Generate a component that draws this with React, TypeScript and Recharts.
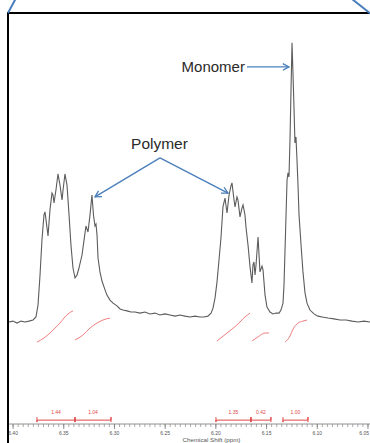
import React from 'react';
import {
  ComposedChart,
  Line,
  XAxis,
  YAxis,
  ReferenceLine,
  ReferenceDot,
} from 'recharts';

// 1H NMR trace, [ppm, intensity] (monomer peak = 100)
const spectrum: [number, number][] = [
  [6.404, -0.7], [6.4001, -0.4], [6.3961, -1.1], [6.3922, -0.4], [6.3882, -0.7],
  [6.3843, -0.4], [6.3803, 0], [6.3774, 1.1], [6.3754, 5.4], [6.3734, 16.3],
  [6.3715, 28.9], [6.3695, 38.0], [6.3685, 39.1], [6.3665, 33.3], [6.3655, 30.4],
  [6.3636, 39.8], [6.3616, 45.9], [6.3606, 45.2], [6.3596, 42.3], [6.3577, 47.0],
  [6.3557, 52.8], [6.3537, 48.8], [6.3517, 43.4], [6.3507, 47.0], [6.3488, 52.8],
  [6.3468, 48.8], [6.3448, 38.0], [6.3429, 27.1], [6.3409, 18.8], [6.3389, 15.2],
  [6.3369, 16.3], [6.335, 18.8], [6.332, 23.5], [6.33, 28.9], [6.3281, 34.0],
  [6.3261, 31.8], [6.3241, 38.0], [6.3222, 45.2], [6.3207, 38.0], [6.3192, 34.0],
  [6.3182, 34.7], [6.3172, 30.7], [6.3162, 22.4], [6.3143, 17.4], [6.3123, 14.1],
  [6.3093, 10.9], [6.3074, 9.0], [6.3044, 7.2], [6.3014, 6.1], [6.2975, 5.1],
  [6.2945, 4.0], [6.2916, 3.6], [6.2876, 3.3], [6.2837, 2.9], [6.2797, 2.9],
  [6.2748, 2.5], [6.2699, 2.9], [6.265, 2.2], [6.26, 2.5], [6.2551, 1.8],
  [6.2502, 2.2], [6.2452, 1.8], [6.2403, 1.4], [6.2354, 1.8], [6.2304, 1.4],
  [6.2255, 1.1], [6.2206, 1.4], [6.2156, 1.1], [6.2117, 1.1], [6.2078, 1.4],
  [6.2048, 2.5], [6.2028, 4.3], [6.2008, 8.0], [6.1989, 13.7], [6.1969, 21.7],
  [6.1949, 30.0], [6.193, 40.9], [6.191, 44.1], [6.189, 38.7], [6.187, 45.2],
  [6.1851, 48.5], [6.1841, 49.6], [6.1821, 43.4], [6.1811, 40.9], [6.1792, 44.5],
  [6.1782, 43.4], [6.1762, 37.3], [6.1742, 40.5], [6.1732, 41.6], [6.1713, 38.0],
  [6.1703, 33.6], [6.1683, 27.1], [6.1663, 19.2], [6.1644, 13.4], [6.1634, 19.9],
  [6.1624, 21.0], [6.1614, 16.3], [6.1604, 19.9], [6.1584, 30.0], [6.1565, 17.4],
  [6.1545, 19.5], [6.1535, 18.1], [6.1515, 9.0], [6.1496, 4.7], [6.1466, 2.9],
  [6.1437, 2.2], [6.1407, 2.5], [6.1377, 2.5], [6.1358, 3.6], [6.1338, 6.1],
  [6.1328, 12.7], [6.1318, 25.3], [6.1308, 38.0], [6.1298, 50.6], [6.1289, 53.2],
  [6.1279, 51.7], [6.1269, 65.1], [6.1259, 83.2], [6.1249, 100.2], [6.1239, 88.6],
  [6.1229, 76.0], [6.122, 64.0], [6.121, 66.2], [6.12, 57.9], [6.119, 48.8],
  [6.118, 38.0], [6.116, 27.1], [6.1141, 17.4], [6.1121, 9.8], [6.1101, 6.1],
  [6.1072, 3.6], [6.1032, 2.2], [6.0993, 1.4], [6.0953, 1.1], [6.0894, 0.7],
  [6.0835, 0.4], [6.0776, 0], [6.0716, 0], [6.0657, -0.4], [6.0598, -0.7],
  [6.0539, -0.4], [6.048, -0.7],
];

// integral traces (red), one per region
const integralCurves: [number, number][][] = [
  [[6.3764, -8.0], [6.3695, -6.5], [6.3636, -4.7], [6.3586, -2.9], [6.3537, -1.1], [6.3498, 0.7], [6.3458, 2.2], [6.3409, 3.3]],
  [[6.3389, -7.2], [6.331, -5.4], [6.3241, -2.9], [6.3172, -1.1], [6.3113, 0], [6.3044, 0.7]],
  [[6.1989, -7.6], [6.189, -4.7], [6.1792, -1.8], [6.1713, 1.1], [6.1663, 2.5]],
  [[6.1644, -7.6], [6.1584, -6.1], [6.1515, -4.7], [6.1476, -4.7]],
  [[6.1318, -8.0], [6.1269, -5.8], [6.1239, -3.3], [6.119, -1.1], [6.1141, -0.4], [6.1101, 0]],
];

const integralRanges: [number, number][] = [
  [6.3764, 6.3389],
  [6.3389, 6.3034],
  [6.1999, 6.1654],
  [6.1654, 6.1457],
  [6.1338, 6.1092],
];
const integralValues = ['1.44', '1.04', '1.35', '0.42', '1.00'];

const allTicks: number[] = [];
for (let k = 6050; k <= 6400; k += 5) allTicks.push(k / 1000);

const BRACKET_Y = -36.2;
const BRACKET_TOP = -35.1;
const BRACKET_BOT = -36.9;
const LABEL_Y = -33.3;

const FONT = '"Liberation Sans", Arial, sans-serif';
const BLUE = '#4a7ebb';
const RED = '#e04848';

const spectrumData = spectrum.map(([ppm, v]) => ({ ppm, v }));

const PpmTick = (props: any) => {
  const { x, y, payload } = props;
  const v = payload.value as number;
  const m = Math.round(v * 1000);
  if (m % 50 !== 0) return null;
  // last label sits on the cut edge, keep it inside
  const last = m === 6050;
  return (
    <g>
      <line x1={x} x2={x} y1={y - 7} y2={y - 2} stroke="#777" strokeWidth={0.8} />
      <text
        x={last ? x + 1 : x}
        y={y}
        dy="0.71em"
        textAnchor={last ? 'end' : 'middle'}
        fontSize={5}
        fill="#555"
        fontFamily={FONT}
      >
        {v.toFixed(2)}
      </text>
    </g>
  );
};

const Arrow = (p: any) => {
  const { x1, y1, x2, y2 } = p;
  const a = Math.atan2(y2 - y1, x2 - x1);
  const L = 7;
  const s = 0.5;
  const pts = `${x2 - L * Math.cos(a - s)},${y2 - L * Math.sin(a - s)} ${x2},${y2} ${x2 - L * Math.cos(a + s)},${y2 - L * Math.sin(a + s)}`;
  return (
    <g stroke={BLUE} strokeWidth={1.3} fill="none">
      <line x1={x1} y1={y1} x2={x2} y2={y2} />
      <polyline points={pts} />
    </g>
  );
};

const textShape = (label: string, anchor: 'start' | 'middle' | 'end', size: number, color: string) =>
  (p: any) => (
    <text x={p.cx} y={p.cy} textAnchor={anchor} dominantBaseline="central" fontSize={size} fill={color} fontFamily={FONT}>
      {label}
    </text>
  );

export default function App() {
  return (
    <div
      style={{
        position: 'fixed',
        left: 0,
        top: 0,
        width: 370,
        height: 443,
        overflow: 'hidden',
        background: '#fff',
      }}
    >
      <ComposedChart width={370} height={443} margin={{ top: 13, right: 0, left: 9, bottom: 0 }}>
        <XAxis
          dataKey="ppm"
          type="number"
          domain={[6.048, 6.404]}
          reversed
          ticks={allTicks}
          interval={0}
          height={19}
          tickSize={3}
          tickMargin={4}
          tick={<PpmTick />}
          tickLine={{ stroke: '#888', strokeWidth: 0.7 }}
          axisLine={{ stroke: '#777', strokeWidth: 0.8 }}
          label={{
            value: 'Chemical Shift (ppm)',
            position: 'insideBottom',
            offset: 1,
            dx: 22,
            fontSize: 6.2,
            fill: '#555',
            fontFamily: FONT,
          }}
        />
        <YAxis hide type="number" domain={[-37.6, 111]} />

        <Line
          data={spectrumData}
          dataKey="v"
          type="linear"
          stroke="#5c5c5c"
          strokeWidth={1.1}
          dot={false}
          isAnimationActive={false}
        />

        {integralCurves.map((c, i) => (
          <Line
            key={`int-${i}`}
            data={c.map(([ppm, v]) => ({ ppm, v }))}
            dataKey="v"
            type="monotone"
            stroke="#f07e7e"
            strokeWidth={1}
            dot={false}
            isAnimationActive={false}
          />
        ))}

        {integralRanges.map(([a, b], i) => (
          <Line
            key={`br-${i}`}
            data={[
              { ppm: a, v: BRACKET_TOP },
              { ppm: a, v: BRACKET_BOT },
              { ppm: a, v: BRACKET_Y },
              { ppm: b, v: BRACKET_Y },
              { ppm: b, v: BRACKET_TOP },
              { ppm: b, v: BRACKET_BOT },
            ]}
            dataKey="v"
            type="linear"
            stroke={RED}
            strokeWidth={1}
            dot={false}
            isAnimationActive={false}
          />
        ))}

        {integralRanges.map(([a, b], i) => (
          <ReferenceDot
            key={`bl-${i}`}
            x={(a + b) / 2}
            y={LABEL_Y}
            r={0}
            shape={textShape(integralValues[i], 'middle', 5, RED)}
          />
        ))}

        <ReferenceLine segment={[{ x: 6.1693, y: 91.5 }, { x: 6.1279, y: 91.5 }]} shape={Arrow} />
        <ReferenceDot x={6.1713} y={91.5} r={0} shape={textShape('Monomer', 'end', 15, '#2a2a2a')} />

        <ReferenceLine segment={[{ x: 6.2551, y: 58.6 }, { x: 6.3192, y: 44.5 }]} shape={Arrow} />
        <ReferenceLine segment={[{ x: 6.2551, y: 58.6 }, { x: 6.188, y: 45.9 }]} shape={Arrow} />
        <ReferenceDot x={6.2556} y={63.7} r={0} shape={textShape('Polymer', 'middle', 15.5, '#2a2a2a')} />
      </ComposedChart>

      {/* frame of the zoomed inset */}
      <svg width={370} height={443} style={{ position: 'absolute', left: 0, top: 0, pointerEvents: 'none' }}>
        <line x1={8} y1={13} x2={370} y2={13} stroke="#000" strokeWidth={2} />
        <line x1={8} y1={12} x2={8} y2={443} stroke="#000" strokeWidth={2} />
        <line x1={8} y1={13} x2={16} y2={-2} stroke={BLUE} strokeWidth={2} />
        <line x1={352} y1={-1} x2={371} y2={14} stroke={BLUE} strokeWidth={2} />
      </svg>
    </div>
  );
}
